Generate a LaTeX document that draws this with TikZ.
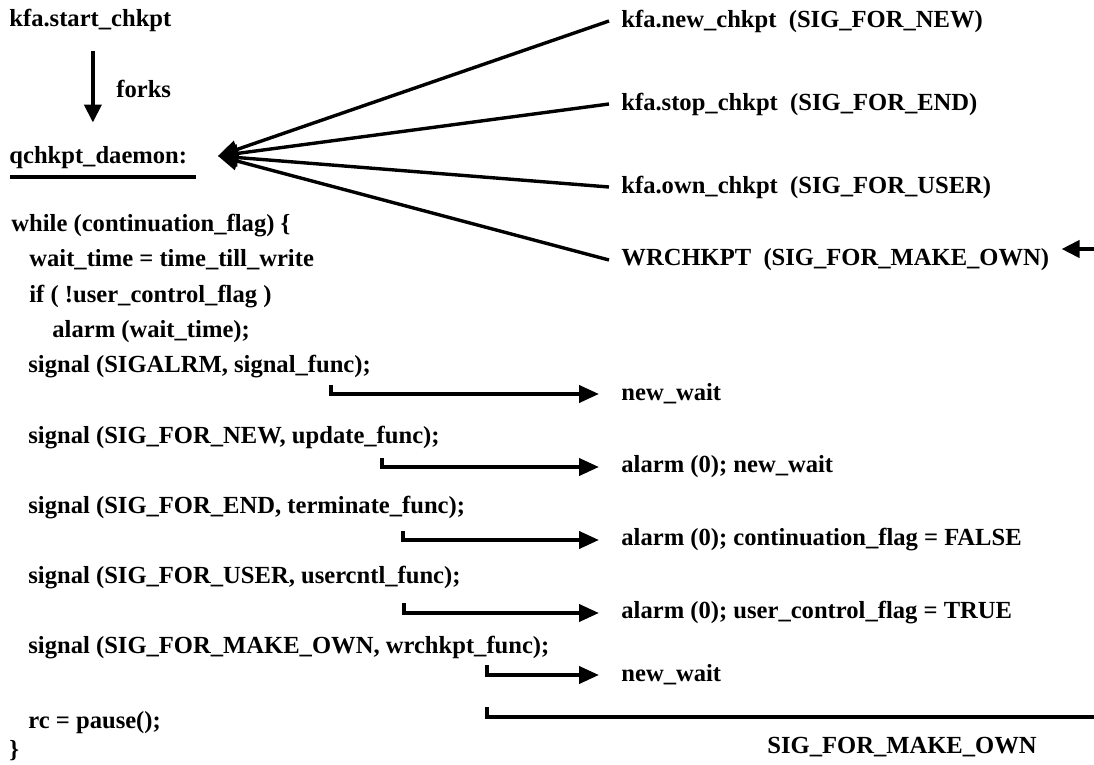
\documentclass[tikz,border=0pt]{standalone}
\usepackage{fontspec}
\setmainfont{Liberation Serif}
\usetikzlibrary{arrows.meta,positioning,calc}

\begin{document}
\begin{tikzpicture}[x=0.5pt, y=-0.5pt,
    every node/.style={font=\fontsize{12.3}{14}\selectfont\bfseries, inner sep=0pt},
    code/.style={anchor=base west},
    sigtext/.style={anchor=west, inner xsep=6pt},
    result/.style={anchor=west},
    sig/.style={line width=2pt, -{Triangle[length=9pt,width=8.5pt]}},
    fanline/.style={line width=1.7pt, -{Triangle[length=10pt,width=9pt]}},
    brk/.style={line width=2pt, -{Triangle[length=10pt,width=8.5pt]}, shorten >=11pt}]
    \useasboundingbox (0,0) rectangle (1094,765);

    % start and daemon
    \node[code] (start) at (9,27) {kfa.start\_chkpt};
    \node[code] (daemon) at (9,164) {qchkpt\_daemon:};
    \draw[sig, shorten <=9pt, shorten >=12pt] ([xshift=1.25pt]start.south) -- ([xshift=1.25pt]start.south |- daemon.north);
    \node[code] (forks) at (116,98) {forks};
    \draw[line width=2pt] (daemon.base west) ++(1,13) -- ++(186,0);
    \coordinate (fan) at (218,156);

    % signal senders
    \node[sigtext] (newck) at (609,21) {kfa.new\_chkpt~ (SIG\_FOR\_NEW)};
    \node[sigtext] (stopck) at (609,104) {kfa.stop\_chkpt~ (SIG\_FOR\_END)};
    \node[sigtext] (ownck) at (609,187) {kfa.own\_chkpt~ (SIG\_FOR\_USER)};
    \node[sigtext] (wrck) at (609,260) {WRCHKPT~ (SIG\_FOR\_MAKE\_OWN)};
    \foreach \s in {newck,stopck,ownck,wrck}
        \draw[fanline] (\s.west) -- (fan);
    \coordinate (wrin) at (1094,249);
    \draw[sig] (wrin) -- (wrin -| wrck.east);

    % daemon loop
    \node[code] (while) at (11,232) {while (continuation\_flag) \{};
    \node[code] (wait) at (29,267) {wait\_time = time\_till\_write};
    \node[code] (ifuser) at (29,302) {if ( !user\_control\_flag )};
    \node[code] (alarm) at (52,337) {alarm (wait\_time);};
    \node[code] (sigalrm) at (28,372) {signal (SIGALRM, signal\_func);};
    \node[code] (signew) at (28,443) {signal (SIG\_FOR\_NEW, update\_func);};
    \node[code] (sigend) at (28,513) {signal (SIG\_FOR\_END, terminate\_func);};
    \node[code] (siguser) at (28,583) {signal (SIG\_FOR\_USER, usercntl\_func);};
    \node[code] (sigown) at (28,653) {signal (SIG\_FOR\_MAKE\_OWN, wrchkpt\_func);};
    \node[code] (pause) at (28,728) {rc = pause();};
    \node[code] (close) at (9,757) {\}};

    % handlers
    \node[result] (res1) at (621,394) {new\_wait};
    \node[result] (res2) at (621,467) {alarm (0); new\_wait};
    \node[result] (res3) at (621,540) {alarm (0); continuation\_flag = FALSE};
    \node[result] (res4) at (621,613) {alarm (0); user\_control\_flag = TRUE};
    \node[result] (res5) at (621,675) {new\_wait};
    \coordinate (b1) at (331,385);
    \coordinate (b2) at (382,458);
    \coordinate (b3) at (403,531);
    \coordinate (b4) at (404,603);
    \coordinate (b5) at (487,665);
    \coordinate (b6) at (487,707);
    \draw[brk] (b1) |- (res1.west);
    \draw[brk] (b2) |- (res2.west);
    \draw[brk] (b3) |- (res3.west);
    \draw[brk] (b4) |- (res4.west);
    \draw[brk] (b5) |- (res5.west);
    \coordinate (loopout) at (1094,717);
    \draw[line width=2pt] (b6) |- (loopout);
    \node[code] (sigmk) at (767,753) {SIG\_FOR\_MAKE\_OWN};
\end{tikzpicture}
\end{document}
